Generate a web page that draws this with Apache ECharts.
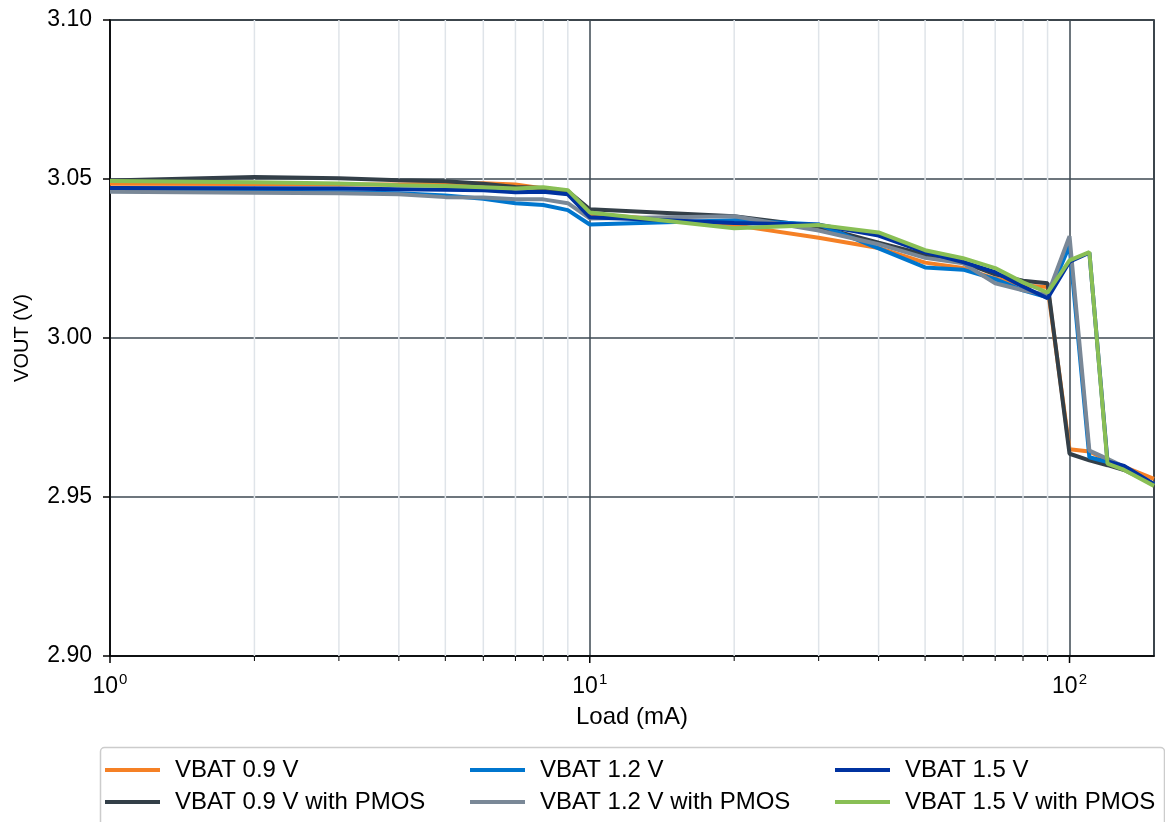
<!DOCTYPE html>
<html>
<head>
  <meta charset="utf-8">
  <title>VOUT vs Load</title>
  <script src="https://cdn.jsdelivr.net/npm/echarts@6/dist/echarts.min.js"></script>
  <style>
    html, body { margin: 0; padding: 0; background: #fff; }
    #chart { width: 1165px; height: 822px; }
  </style>
</head>
<body>
<div id="chart"></div>
<script>
// load points (mA)
var loads = [1, 2, 3, 4, 5, 6, 7, 8, 9, 10, 20, 30, 40, 50, 60, 70, 80, 90, 100, 110, 120, 130, 150];

// VOUT (V) per series
var vbat09   = [3.0485, 3.0484, 3.0483, 3.0483, 3.0485, 3.0487, 3.0483, 3.0470, 3.0460, 3.0390, 3.0355, 3.0315, 3.0283, 3.0237, 3.0220, 3.0187, 3.0166, 3.0160, 2.9650, 2.9643, 2.9615, 2.9595, 2.9557];
var vbat09p  = [3.0495, 3.0506, 3.0502, 3.0496, 3.0493, 3.0485, 3.0475, 3.0472, 3.0462, 3.0405, 3.0383, 3.0350, 3.0300, 3.0262, 3.0238, 3.0200, 3.0180, 3.0172, 2.9636, 2.9615, 2.9600, 2.9585, 2.9540];
var vbat12   = [3.0462, 3.0460, 3.0458, 3.0455, 3.0448, 3.0438, 3.0424, 3.0418, 3.0402, 3.0357, 3.0370, 3.0357, 3.0282, 3.0222, 3.0215, 3.0185, 3.0150, 3.0128, 3.0290, 2.9625, 2.9610, 2.9590, 2.9540];
var vbat12p  = [3.0460, 3.0457, 3.0455, 3.0452, 3.0443, 3.0442, 3.0436, 3.0436, 3.0424, 3.0376, 3.0383, 3.0338, 3.0295, 3.0252, 3.0235, 3.0172, 3.0150, 3.0135, 3.0320, 2.9646, 2.9620, 2.9595, 2.9540];
var vbat15   = [3.0472, 3.0471, 3.0470, 3.0468, 3.0466, 3.0465, 3.0458, 3.0460, 3.0452, 3.0380, 3.0362, 3.0356, 3.0322, 3.0270, 3.0239, 3.0207, 3.0162, 3.0125, 3.0240, 3.0268, 2.9612, 2.9598, 2.9540];
var vbat15p  = [3.0494, 3.0490, 3.0486, 3.0480, 3.0478, 3.0474, 3.0470, 3.0474, 3.0465, 3.0395, 3.0345, 3.0355, 3.0332, 3.0276, 3.0251, 3.0220, 3.0175, 3.0143, 3.0244, 3.0270, 2.9605, 2.9585, 2.9535];

var seriesNames = ['VBAT 0.9 V', 'VBAT 0.9 V with PMOS', 'VBAT 1.2 V', 'VBAT 1.2 V with PMOS', 'VBAT 1.5 V', 'VBAT 1.5 V with PMOS'];
var seriesData = [vbat09, vbat09p, vbat12, vbat12p, vbat15, vbat15p];
var colors = ['#F58025', '#333F48', '#0076CE', '#7A8897', '#0032A0', '#89BF55'];

// axis ticks
var xMin = 1, xMax = 150;
var yMin = 2.90, yMax = 3.10, yStep = 0.05;
var majorTicks = [1, 10, 100];
var minorTicks = [2, 3, 4, 5, 6, 7, 8, 9, 20, 30, 40, 50, 60, 70, 80, 90];

var font = '"Liberation Sans", Arial, sans-serif';
var fsTick = 23;
var fsText = 24;

function pairs(ys) {
  return loads.map(function (x, i) { return [x, ys[i]]; });
}

var series = [];

// minor grid lines + bottom ticks (log axis minor ticks at 2..9)
series.push({
  type: 'custom',
  silent: true,
  clip: false,
  z: 1,
  data: majorTicks.map(function (v) { return [v, 1]; }).concat(minorTicks.map(function (v) { return [v, 0]; })),
  renderItem: function (params, api) {
    var x = api.value(0);
    var major = api.value(1) === 1;
    var top = api.coord([x, yMax]);
    var bot = api.coord([x, yMin]);
    var kids = [{
      type: 'line',
      shape: { x1: bot[0], y1: bot[1] + 1, x2: bot[0], y2: bot[1] + (major ? 7 : 5) },
      style: { stroke: '#000', lineWidth: major ? 1.5 : 1 }
    }];
    if (!major) {
      kids.push({
        type: 'line',
        shape: { x1: top[0], y1: top[1], x2: bot[0], y2: bot[1] },
        style: { stroke: '#DFE4E9', lineWidth: 1.5 }
      });
    }
    return { type: 'group', children: kids };
  }
});

for (var i = 0; i < seriesNames.length; i++) {
  series.push({
    name: seriesNames[i],
    type: 'line',
    data: pairs(seriesData[i]),
    showSymbol: false,
    z: 3 + i,
    color: colors[i],
    lineStyle: { width: 4, color: colors[i] }
  });
}

function legendCol(left, names) {
  return {
    data: names,
    orient: 'vertical',
    left: left,
    top: 756,
    padding: 0,
    itemWidth: 55,
    itemHeight: 4,
    itemGap: 4,
    icon: 'rect',
    selectedMode: false,
    textStyle: { fontFamily: font, fontSize: fsText, color: '#000', lineHeight: 28, padding: [0, 0, 0, 10] }
  };
}

var option = {
  animation: false,
  backgroundColor: '#fff',
  grid: {
    left: 110, top: 20, right: 11, bottom: 166,
    show: true, borderColor: '#000', borderWidth: 1.5, backgroundColor: 'transparent'
  },
  xAxis: {
    type: 'log',
    logBase: 10,
    min: xMin,
    max: xMax,
    name: 'Load (mA)',
    nameLocation: 'middle',
    nameGap: 49,
    nameTextStyle: { fontFamily: font, fontSize: fsText, color: '#000' },
    axisLine: { show: true, lineStyle: { color: '#000', width: 1.5 } },
    axisTick: { show: false },
    splitLine: { show: true, lineStyle: { color: '#3D4852', width: 1.5 } },
    axisLabel: {
      margin: 16,
      showMaxLabel: false,
      formatter: function (value) {
        var e = Math.round(Math.log(value) / Math.LN10);
        if (Math.abs(Math.pow(10, e) - value) > 1e-6) return '';
        return '{b|10}{s|' + e + '}';
      },
      rich: {
        b: { fontFamily: font, fontSize: fsTick, color: '#000' },
        s: { fontFamily: font, fontSize: 15, color: '#000', verticalAlign: 'top', padding: [0, 0, 14, 1] }
      }
    }
  },
  yAxis: {
    type: 'value',
    min: yMin,
    max: yMax,
    interval: yStep,
    name: 'VOUT (V)',
    nameLocation: 'middle',
    nameGap: 78,
    nameTextStyle: { fontFamily: font, fontSize: 20, color: '#000' },
    axisLine: { show: true, lineStyle: { color: '#000', width: 1.5 } },
    axisTick: { show: true, length: 7, lineStyle: { color: '#000', width: 1.5 } },
    splitLine: { show: true, lineStyle: { color: '#3D4852', width: 1.5 } },
    axisLabel: {
      margin: 18,
      fontFamily: font, fontSize: fsTick, color: '#000',
      formatter: function (v) { return v.toFixed(2); }
    }
  },
  legend: [
    legendCol(105, [seriesNames[0], seriesNames[1]]),
    legendCol(470, [seriesNames[2], seriesNames[3]]),
    legendCol(835, [seriesNames[4], seriesNames[5]])
  ],
  graphic: [{
    type: 'rect',
    left: 98, top: 745,
    shape: { width: 1064, height: 100, r: 4 },
    style: { fill: 'none', stroke: '#CCCCCC', lineWidth: 1.5 },
    silent: true
  }],
  series: series
};

var chart = echarts.init(document.getElementById('chart'));
chart.setOption(option);
</script>
</body>
</html>
